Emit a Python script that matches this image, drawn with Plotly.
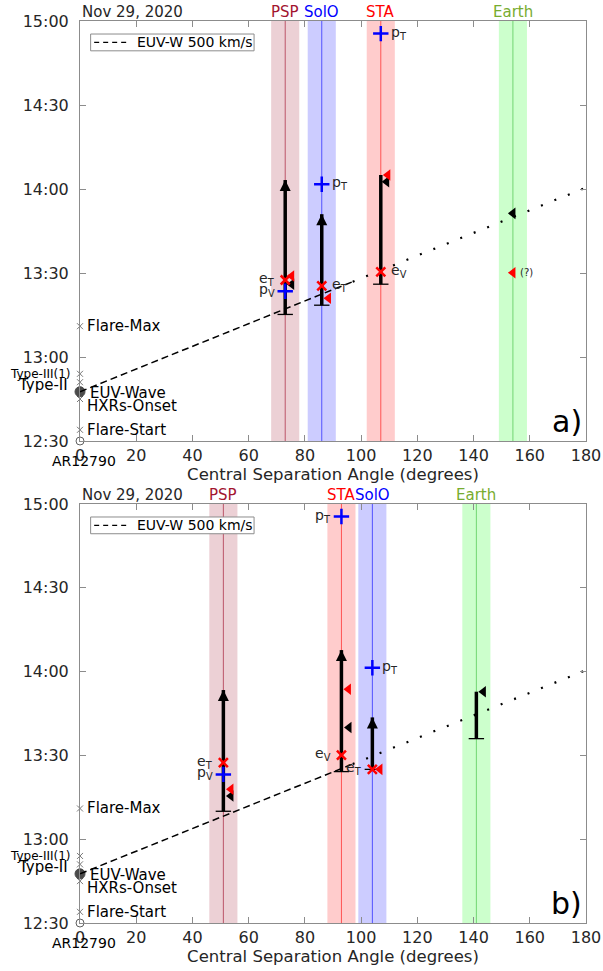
import plotly.graph_objects as go

DAY = "2020-11-29 "
FONT = "DejaVu Sans"
TXT = "#262626"

# ---------------- data ----------------
SC_NAMES = ["PSP", "SolO", "STA", "Earth"]
SC_ANGLE_A = [73, 86, 107, 154]
SC_ANGLE_B = [51, 104, 93, 141]
SC_HALFWIDTH = 5
SC_LABEL_COLORS = ["#A2142F", "#0000FF", "#FF0000", "#77AC30"]
SC_BAND_COLORS = ["rgba(162,20,47,0.2)", "rgba(0,0,255,0.2)",
                  "rgba(255,0,0,0.2)", "rgba(0,255,0,0.2)"]
SC_LINE_COLORS = ["rgba(162,20,47,0.65)", "rgba(0,0,255,0.6)",
                  "rgba(255,0,0,0.6)", "rgba(40,180,40,0.55)"]

EVENT_NAMES = ["Flare-Start", "HXRs-Onset", "EUV-Wave", "Type-II", "Type-III(1)", "Flare-Max"]
EVENT_TIMES = ["12:34:00", "12:45:00", "12:47:36", "12:51:00", "12:54:00", "13:11:00"]
AR_NAME = "AR12790"
AR_TIME = "12:30:00"

EUV_NAME = "EUV-W 500 km/s"
EUV_DASH_ANGLE = [0, 97]
EUV_DASH_TIME = ["12:47:36", "13:26:54"]
EUV_DOT_ANGLE = [97, 180]
EUV_DOT_TIME = ["13:26:54", "14:00:30"]

# panel a
BAR_A_ANGLE = [73, 86, 107]
BAR_A_START = ["13:15:12", "13:18:30", "13:26:00"]
BAR_A_END = ["14:03:12", "13:51:00", "14:05:00"]
BAR_A_ARROW = [True, True, False]

E_A_ANGLE = [73, 86, 107]
E_A_TIME = ["13:27:30", "13:25:24", "13:30:24"]
E_A_LABEL = ["e<sub>T</sub>", "e<sub>T</sub>", "e<sub>V</sub>"]
E_A_SIDE = ["left", "right", "right"]

P_A_ANGLE = [73, 86, 107]
P_A_TIME = ["13:23:30", "14:01:42", "14:55:30"]
P_A_LABEL = ["p<sub>V</sub>", "p<sub>T</sub>", "p<sub>T</sub>"]
P_A_SIDE = ["left", "right", "right"]

RT_A_ANGLE = [75.3, 88.4, 109.5, 154]
RT_A_TIME = ["13:28:54", "13:21:00", "14:05:00", "13:30:06"]
RT_A_NOTE = ["", "", "", "(?)"]
BT_A_ANGLE = [75.3, 109.1, 154]
BT_A_TIME = ["13:26:00", "14:02:36", "13:51:18"]

# panel b
BAR_B_ANGLE = [51, 93, 104, 141]
BAR_B_START = ["13:10:00", "13:24:12", "13:25:00", "13:36:00"]
BAR_B_END = ["13:53:24", "14:07:42", "13:43:36", "13:52:48"]
BAR_B_ARROW = [True, True, True, False]

E_B_ANGLE = [51, 93, 104]
E_B_TIME = ["13:27:24", "13:30:06", "13:25:00"]
E_B_LABEL = ["e<sub>T</sub>", "e<sub>V</sub>", "e<sub>T</sub>"]
E_B_SIDE = ["left", "left", "left"]

P_B_ANGLE = [51, 93, 104]
P_B_TIME = ["13:23:12", "14:55:30", "14:01:24"]
P_B_LABEL = ["p<sub>V</sub>", "p<sub>T</sub>", "p<sub>T</sub>"]
P_B_SIDE = ["left", "left", "right"]

RT_B_ANGLE = [53.7, 95.5, 106.7]
RT_B_TIME = ["13:17:54", "13:53:42", "13:25:00"]
RT_B_NOTE = ["", "", ""]
BT_B_ANGLE = [53.7, 95.7, 143.5]
BT_B_TIME = ["13:15:30", "13:40:00", "13:52:48"]

X_TICKS = [0, 20, 40, 60, 80, 100, 120, 140, 160, 180]
DATE_LABEL = "Nov 29, 2020"
X_TITLE = "Central Separation Angle (degrees)"


def T(s):
    return DAY + s


fig = go.Figure()
shapes = []
annotations = []

W, H = 603, 971


def panel(xa, ya, sc_angles, bar_angle, bar_start, bar_end, bar_arrow,
          e_angle, e_time, e_label, e_side, p_angle, p_time, p_label, p_side,
          rt_angle, rt_time, rt_note, bt_angle, bt_time, tag):
    ydom = ya + " domain"
    xdomr = xa + " domain"
    # spacecraft bands & lines
    for name, ang, bc, lc, tc in zip(SC_NAMES, sc_angles, SC_BAND_COLORS,
                                     SC_LINE_COLORS, SC_LABEL_COLORS):
        shapes.append(dict(type="rect", xref=xa, yref=ydom, x0=ang - SC_HALFWIDTH,
                           x1=ang + SC_HALFWIDTH, y0=0, y1=1, fillcolor=bc,
                           line=dict(width=0), layer="below"))
        shapes.append(dict(type="line", xref=xa, yref=ydom, x0=ang, x1=ang, y0=0, y1=1,
                           line=dict(color=lc, width=1), layer="below"))
        annotations.append(dict(xref=xa, yref=ydom, x=ang, y=1, yanchor="bottom",
                                text=name, showarrow=False, yshift=-2,
                                font=dict(family=FONT, size=15, color=tc)))
    # EUV wave line
    fig.add_trace(go.Scatter(x=EUV_DASH_ANGLE, y=[T(s) for s in EUV_DASH_TIME],
                             mode="lines", xaxis=xa, yaxis=ya, name=EUV_NAME,
                             showlegend=False,
                             line=dict(color="black", width=1.5, dash="7px,4px")))
    fig.add_trace(go.Scatter(x=EUV_DOT_ANGLE, y=[T(s) for s in EUV_DOT_TIME],
                             mode="lines", xaxis=xa, yaxis=ya, showlegend=False,
                             line=dict(color="black", width=2.2, dash="2px,12.5px")))
    # legend box (drawn in axis-domain units)
    shapes.append(dict(type="rect", xref=xdomr, yref=ydom, x0=0.021, x1=0.344,
                       y0=0.929, y1=0.969, fillcolor="white",
                       line=dict(color="#8c8c8c", width=1), layer="above"))
    shapes.append(dict(type="line", xref=xdomr, yref=ydom, x0=0.028, x1=0.095,
                       y0=0.949, y1=0.949,
                       line=dict(color="black", width=1.3, dash="5px,4px"), layer="above"))
    annotations.append(dict(xref=xdomr, yref=ydom, x=0.108, y=0.949, text=EUV_NAME,
                            xanchor="left", yanchor="middle", showarrow=False,
                            font=dict(family=FONT, size=14, color="black")))
    # bars
    for ang, s0, s1, arr in zip(bar_angle, bar_start, bar_end, bar_arrow):
        fig.add_trace(go.Scatter(x=[ang, ang], y=[T(s0), T(s1)], mode="lines",
                                 xaxis=xa, yaxis=ya, showlegend=False,
                                 line=dict(color="black", width=3.5)))
        fig.add_trace(go.Scatter(x=[ang], y=[T(s0)], mode="markers", xaxis=xa, yaxis=ya,
                                 showlegend=False,
                                 marker=dict(symbol="line-ew", size=11, color="black",
                                             line=dict(color="black", width=1.3))))
        if arr:
            fig.add_trace(go.Scatter(x=[ang], y=[T(s1)], mode="markers", xaxis=xa,
                                     yaxis=ya, showlegend=False,
                                     marker=dict(symbol="arrow-up", size=11, color="black",
                                                 line=dict(width=0))))
    # triangles
    fig.add_trace(go.Scatter(x=bt_angle, y=[T(s) for s in bt_time], mode="markers",
                             xaxis=xa, yaxis=ya, showlegend=False,
                             marker=dict(symbol="triangle-left", size=10, color="black",
                                         line=dict(width=0))))
    fig.add_trace(go.Scatter(x=rt_angle, y=[T(s) for s in rt_time], mode="markers",
                             xaxis=xa, yaxis=ya, showlegend=False,
                             marker=dict(symbol="triangle-left", size=10, color="red",
                                         line=dict(width=0))))
    for ang, s, note in zip(rt_angle, rt_time, rt_note):
        if note:
            annotations.append(dict(xref=xa, yref=ya, x=ang, y=T(s), text=note,
                                    xanchor="left", xshift=5, showarrow=False,
                                    font=dict(family=FONT, size=10, color=TXT)))
    # electrons / protons
    fig.add_trace(go.Scatter(x=e_angle, y=[T(s) for s in e_time], mode="markers",
                             xaxis=xa, yaxis=ya, showlegend=False,
                             marker=dict(symbol="x-thin", size=9, color="red",
                                         line=dict(color="red", width=2.5))))
    fig.add_trace(go.Scatter(x=p_angle, y=[T(s) for s in p_time], mode="markers",
                             xaxis=xa, yaxis=ya, showlegend=False,
                             marker=dict(symbol="cross-thin", size=11, color="blue",
                                         line=dict(color="blue", width=2.5))))
    for angs, times, labs, sides in ((e_angle, e_time, e_label, e_side),
                                     (p_angle, p_time, p_label, p_side)):
        for ang, s, lab, side in zip(angs, times, labs, sides):
            annotations.append(dict(xref=xa, yref=ya, x=ang, y=T(s), text=lab,
                                    showarrow=False,
                                    xanchor="right" if side == "left" else "left",
                                    xshift=-8 if side == "left" else 8, yshift=1,
                                    font=dict(family=FONT, size=14, color=TXT)))
    # events on the y axis
    is_dot = [n == "EUV-Wave" for n in EVENT_NAMES]
    fig.add_trace(go.Scatter(x=[0] * len(EVENT_TIMES), y=[T(s) for s in EVENT_TIMES],
                             mode="markers", xaxis=xa, yaxis=ya, showlegend=False,
                             cliponaxis=False,
                             marker=dict(symbol=["circle" if d else "x-thin" for d in is_dot],
                                         size=[10 if d else 6 for d in is_dot],
                                         color=["black" if d else "#404040" for d in is_dot],
                                         line=dict(color=["black" if d else "#404040"
                                                          for d in is_dot], width=1))))
    fig.add_trace(go.Scatter(x=[0], y=[T(AR_TIME)], mode="markers", xaxis=xa, yaxis=ya,
                             showlegend=False, cliponaxis=False,
                             marker=dict(symbol="circle-open", size=8, color="#606060",
                                         line=dict(color="#606060", width=1))))
    for n, s in zip(EVENT_NAMES, EVENT_TIMES):
        if n == "Type-III(1)":
            a = dict(xanchor="right", xshift=-7, size=12, yshift=0)
        elif n == "Type-II":
            a = dict(xanchor="right", xshift=-10, size=15, yshift=-3)
        elif n == "HXRs-Onset":
            a = dict(xanchor="left", xshift=5, size=15, yshift=-7)
        elif n == "EUV-Wave":
            a = dict(xanchor="left", xshift=8, size=15, yshift=-1)
        else:
            a = dict(xanchor="left", xshift=5, size=15, yshift=0)
        annotations.append(dict(xref=xa, yref=ya, x=0, y=T(s), text=n, showarrow=False,
                                xanchor=a["xanchor"], xshift=a["xshift"], yshift=a["yshift"],
                                font=dict(family=FONT, size=a["size"], color="black")))
    annotations.append(dict(xref=xa, yref=ya, x=0, y=T(AR_TIME), text=AR_NAME,
                            showarrow=False, xanchor="center", xshift=4, yshift=-20,
                            font=dict(family=FONT, size=14, color="black")))
    # date and panel tag
    annotations.append(dict(xref=xdomr, yref=ydom, x=0, y=1, text=DATE_LABEL,
                            xanchor="left", yanchor="bottom", showarrow=False, yshift=-2,
                            font=dict(family=FONT, size=15, color=TXT)))
    annotations.append(dict(xref=xdomr, yref=ydom, x=1, y=0, text=tag,
                            xanchor="right", yanchor="bottom", showarrow=False,
                            xshift=-2, yshift=0,
                            font=dict(family=FONT, size=30, color="black")))


panel("x", "y", SC_ANGLE_A, BAR_A_ANGLE, BAR_A_START, BAR_A_END, BAR_A_ARROW,
      E_A_ANGLE, E_A_TIME, E_A_LABEL, E_A_SIDE, P_A_ANGLE, P_A_TIME, P_A_LABEL, P_A_SIDE,
      RT_A_ANGLE, RT_A_TIME, RT_A_NOTE, BT_A_ANGLE, BT_A_TIME, "a)")
panel("x2", "y2", SC_ANGLE_B, BAR_B_ANGLE, BAR_B_START, BAR_B_END, BAR_B_ARROW,
      E_B_ANGLE, E_B_TIME, E_B_LABEL, E_B_SIDE, P_B_ANGLE, P_B_TIME, P_B_LABEL, P_B_SIDE,
      RT_B_ANGLE, RT_B_TIME, RT_B_NOTE, BT_B_ANGLE, BT_B_TIME, "b)")

xdom = [80 / W, 586 / W]
ydom_a = [1 - 441 / H, 1 - 21 / H]
ydom_b = [1 - 923 / H, 1 - 504 / H]

axis_common = dict(showline=True, linecolor="#8c8c8c", linewidth=1, mirror="ticks",
                   ticks="inside", ticklen=6, tickcolor="#8c8c8c", showgrid=False,
                   zeroline=False, automargin=False,
                   tickfont=dict(family=FONT, size=16, color=TXT))
xcommon = dict(axis_common, range=[0, 180], tickvals=X_TICKS,
               title=dict(text=X_TITLE, font=dict(family=FONT, size=16.5, color=TXT),
                          standoff=2))
ycommon = dict(axis_common, type="date", range=[T("12:30:00"), T("15:00:00")],
               tick0=T("12:30:00"), dtick=1800000, tickformat="%H:%M",
               ticklabelstandoff=7)

fig.update_layout(
    width=W, height=H, margin=dict(l=0, r=0, t=0, b=0, autoexpand=False),
    paper_bgcolor="white", plot_bgcolor="white", showlegend=False,
    xaxis=dict(xcommon, domain=xdom, anchor="y"),
    yaxis=dict(ycommon, domain=ydom_a, anchor="x"),
    xaxis2=dict(xcommon, domain=xdom, anchor="y2"),
    yaxis2=dict(ycommon, domain=ydom_b, anchor="x2"),
    shapes=shapes, annotations=annotations,
)

fig.write_html("out.html", config={"displayModeBar": False},
               post_script="document.body.style.margin='0';document.body.style.overflow='hidden';")
